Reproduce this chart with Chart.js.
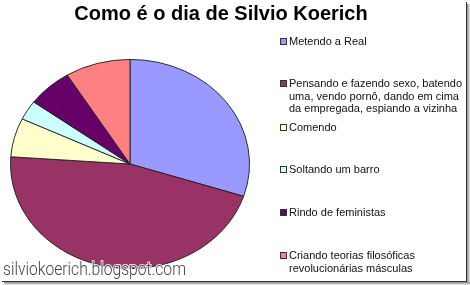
<!DOCTYPE html>
<html>
<head>
<meta charset="utf-8">
<script src="https://cdn.jsdelivr.net/npm/chart.js@4"></script>
<style>
body{margin:0;background:#fff;}
#wrap{position:relative;width:470px;height:285px;}
</style>
</head>
<body>
<div id="wrap"><canvas id="pie" width="470" height="285"></canvas></div>
<script>
var chartTitle="Como é o dia de Silvio Koerich";
var watermark="silviokoerich.blogspot.com";
// legend lines as they wrap in the picture
var labels=[
	["Metendo a Real"],
	["Pensando e fazendo sexo, batendo","uma, vendo pornô, dando em cima","da empregada, espiando a vizinha"],
	["Comendo"],
	["Soltando um barro"],
	["Rindo de feministas"],
	["Criando teorias filosóficas","revolucionárias másculas"]
];
var values=[30, 46.1, 6, 3, 6.1, 8.8];
var colors=["#9999FF","#993366","#FFFFCC","#CCFFFF","#660066","#FF8080"];

var squash=105/120;

var extras={
	id:'extras',
	beforeDatasetsDraw:function(chart) {
		var ctx=chart.ctx;
		var arc=chart.getDatasetMeta(0).data[0];
		ctx.save();
		ctx.translate(arc.x, arc.y);
		ctx.scale(1, squash);
		ctx.translate(-arc.x, -arc.y);
	},
	afterDatasetsDraw:function(chart) {
		chart.ctx.restore();
	},
	afterDraw:function(chart) {
		var ctx=chart.ctx;
		ctx.save();
		//title
		ctx.fillStyle="#000";
		ctx.font="bold 20px 'Liberation Sans', Arial, sans-serif";
		ctx.textAlign="center";
		ctx.textBaseline="middle";
		ctx.fillText(chartTitle, 221, 14);

		//legend
		var ys=[42, 84, 128, 170, 213, 256];
		ctx.font="11px 'Liberation Sans', Arial, sans-serif";
		ctx.textAlign="left";
		for (var i=0; i<chart.data.labels.length; i++) {
			var lines=chart.data.labels[i];
			ctx.fillStyle=chart.data.datasets[0].backgroundColor[i];
			ctx.fillRect(280.5, ys[i]-3.5, 6, 6);
			ctx.strokeStyle="#333";
			ctx.lineWidth=1;
			ctx.strokeRect(280.5, ys[i]-3.5, 6, 6);
			ctx.fillStyle="#111";
			for (var j=0; j<lines.length; j++) {
				ctx.fillText(lines[j], 289, ys[i]+j*12.5);
			}
		}

		//watermark
		ctx.font="300 18px Roboto, sans-serif";
		ctx.textAlign="left";
		ctx.textBaseline="alphabetic";
		var w=ctx.measureText(watermark).width;
		ctx.translate(3, 275);
		ctx.scale(183/w, 1);
		ctx.strokeStyle="rgba(255,255,255,0.9)";
		ctx.lineWidth=2;
		ctx.lineJoin="round";
		ctx.strokeText(watermark, 0, 0);
		ctx.fillStyle="#444";
		ctx.fillText(watermark, 0, 0);
		ctx.setTransform(1,0,0,1,0,0);

		//frame shadow
		ctx.fillStyle="#fff";
		ctx.fillRect(466, 0, 4, 285);
		ctx.fillRect(0, 281, 470, 4);
		ctx.fillStyle="#333";
		ctx.fillRect(466, 2, 1, 280);
		ctx.fillRect(2, 281, 465, 1);
		var g=ctx.createLinearGradient(467, 0, 470, 0);
		g.addColorStop(0, "#888");
		g.addColorStop(1, "#eee");
		ctx.fillStyle=g;
		ctx.fillRect(467, 4, 3, 281);
		var g2=ctx.createLinearGradient(0, 282, 0, 285);
		g2.addColorStop(0, "#888");
		g2.addColorStop(1, "#eee");
		ctx.fillStyle=g2;
		ctx.fillRect(4, 282, 466, 3);
		ctx.restore();
	}
};

window.onload=function() {
	new Chart(document.getElementById('pie').getContext('2d'), {
		type:'pie',
		data:{
			labels:labels,
			datasets:[{
				data:values,
				backgroundColor:colors,
				borderColor:"#222",
				borderWidth:1
			}]
		},
		options:{
			responsive:false,
			animation:false,
			layout:{padding:{left:10, right:220, top:44, bottom:1}},
			plugins:{legend:{display:false}, title:{display:false}, tooltip:{enabled:false}}
		},
		plugins:[extras]
	});
};
</script>
</body>
</html>
